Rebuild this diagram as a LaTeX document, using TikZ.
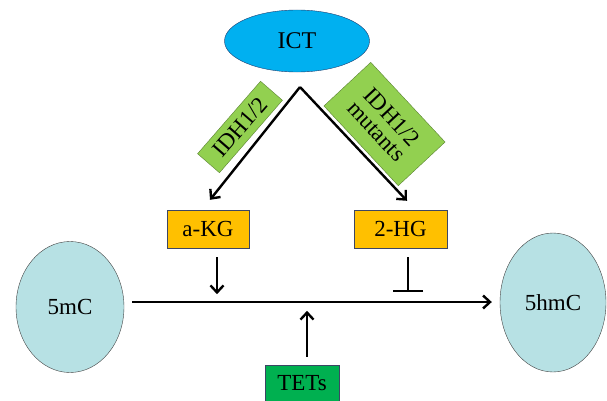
\documentclass[tikz,border=0pt]{standalone}
\usepackage{fontspec}
\setmainfont{Liberation Serif}
\usetikzlibrary{shapes.geometric,arrows.meta,calc}
\definecolor{ictblue}{RGB}{0,176,240}
\definecolor{ictline}{RGB}{30,60,110}
\definecolor{cpgblue}{RGB}{183,225,228}
\definecolor{idhgreen}{RGB}{146,208,80}
\definecolor{idhline}{RGB}{90,130,50}
\definecolor{kgorange}{RGB}{255,192,0}
\definecolor{tetgreen}{RGB}{0,176,80}
\definecolor{boxline}{RGB}{60,70,100}
\begin{document}
\begin{tikzpicture}[x=1pt,y=1pt,
    arr/.style={line width=2.4pt,-{Straight Barb[length=7pt,width=13pt,line width=2.4pt]}},
    cpg/.style={ellipse,draw=black!75,fill=cpgblue,inner sep=0pt,font=\fontsize{23}{26}\selectfont},
    metab/.style={rectangle,draw=boxline,fill=kgorange,minimum height=38pt,inner sep=2pt,font=\fontsize{23}{26}\selectfont},
    enzyme/.style={rectangle,draw=idhline,fill=idhgreen,inner sep=1pt,align=center}]
  \useasboundingbox (0,0) rectangle (607,400);
  % top: ICT and the two IDH branches
  \node[ellipse,draw=ictline,fill=ictblue,minimum width=145pt,minimum height=62pt,inner sep=0pt,
        font=\fontsize{24}{26}\selectfont] (ict) at (297,359) {ICT};
  \coordinate (apex) at (300,313);
  \node[metab,minimum width=82pt] (akg) at (208,171) {a-KG};
  \node[metab,minimum width=93pt] (hg) at (400.5,171) {2-HG};
  \draw[arr] (apex) -- ($(akg.north)+(2,10)$);
  \draw[arr] (apex) -- ($(hg.north)+(6.5,9)$);
  \node[enzyme,rotate=49,minimum width=96pt,minimum height=29pt,
        font=\fontsize{23}{24}\selectfont] (idh) at (240,273) {IDH1/2};
  \node[enzyme,rotate=-47,minimum width=109pt,minimum height=64pt,
        font=\fontsize{23}{24}\selectfont] (idhmut) at (384.5,276) {IDH1/2\\[-3pt]mutants};
  % bottom: 5mC -> 5hmC
  \node[cpg,minimum width=108pt,minimum height=131pt] (mc) at (70,93) {5mC};
  \node[cpg,minimum width=106pt,minimum height=139pt] (hmc) at (553,97.5) {5hmC};
  \draw[arr] ([xshift=8pt,yshift=5pt]mc.east) -- ([xshift=-8pt,yshift=0.5pt]hmc.west);
  \draw[arr] ([xshift=9pt,yshift=-9pt]akg.south) -- ++(0,-37);
  \draw[line width=2.4pt,-{Bar[width=30pt,line width=2.4pt]}] ([xshift=7.5pt,yshift=-9pt]hg.south) -- ++(0,-35);
  \node[rectangle,draw=boxline,fill=tetgreen,minimum width=74pt,minimum height=37pt,inner sep=2pt,
        font=\fontsize{23}{26}\selectfont] (tet) at (302,16.5) {TETs};
  \draw[arr] ([xshift=5pt,yshift=8pt]tet.north) -- ++(0,46);
\end{tikzpicture}
\end{document}
